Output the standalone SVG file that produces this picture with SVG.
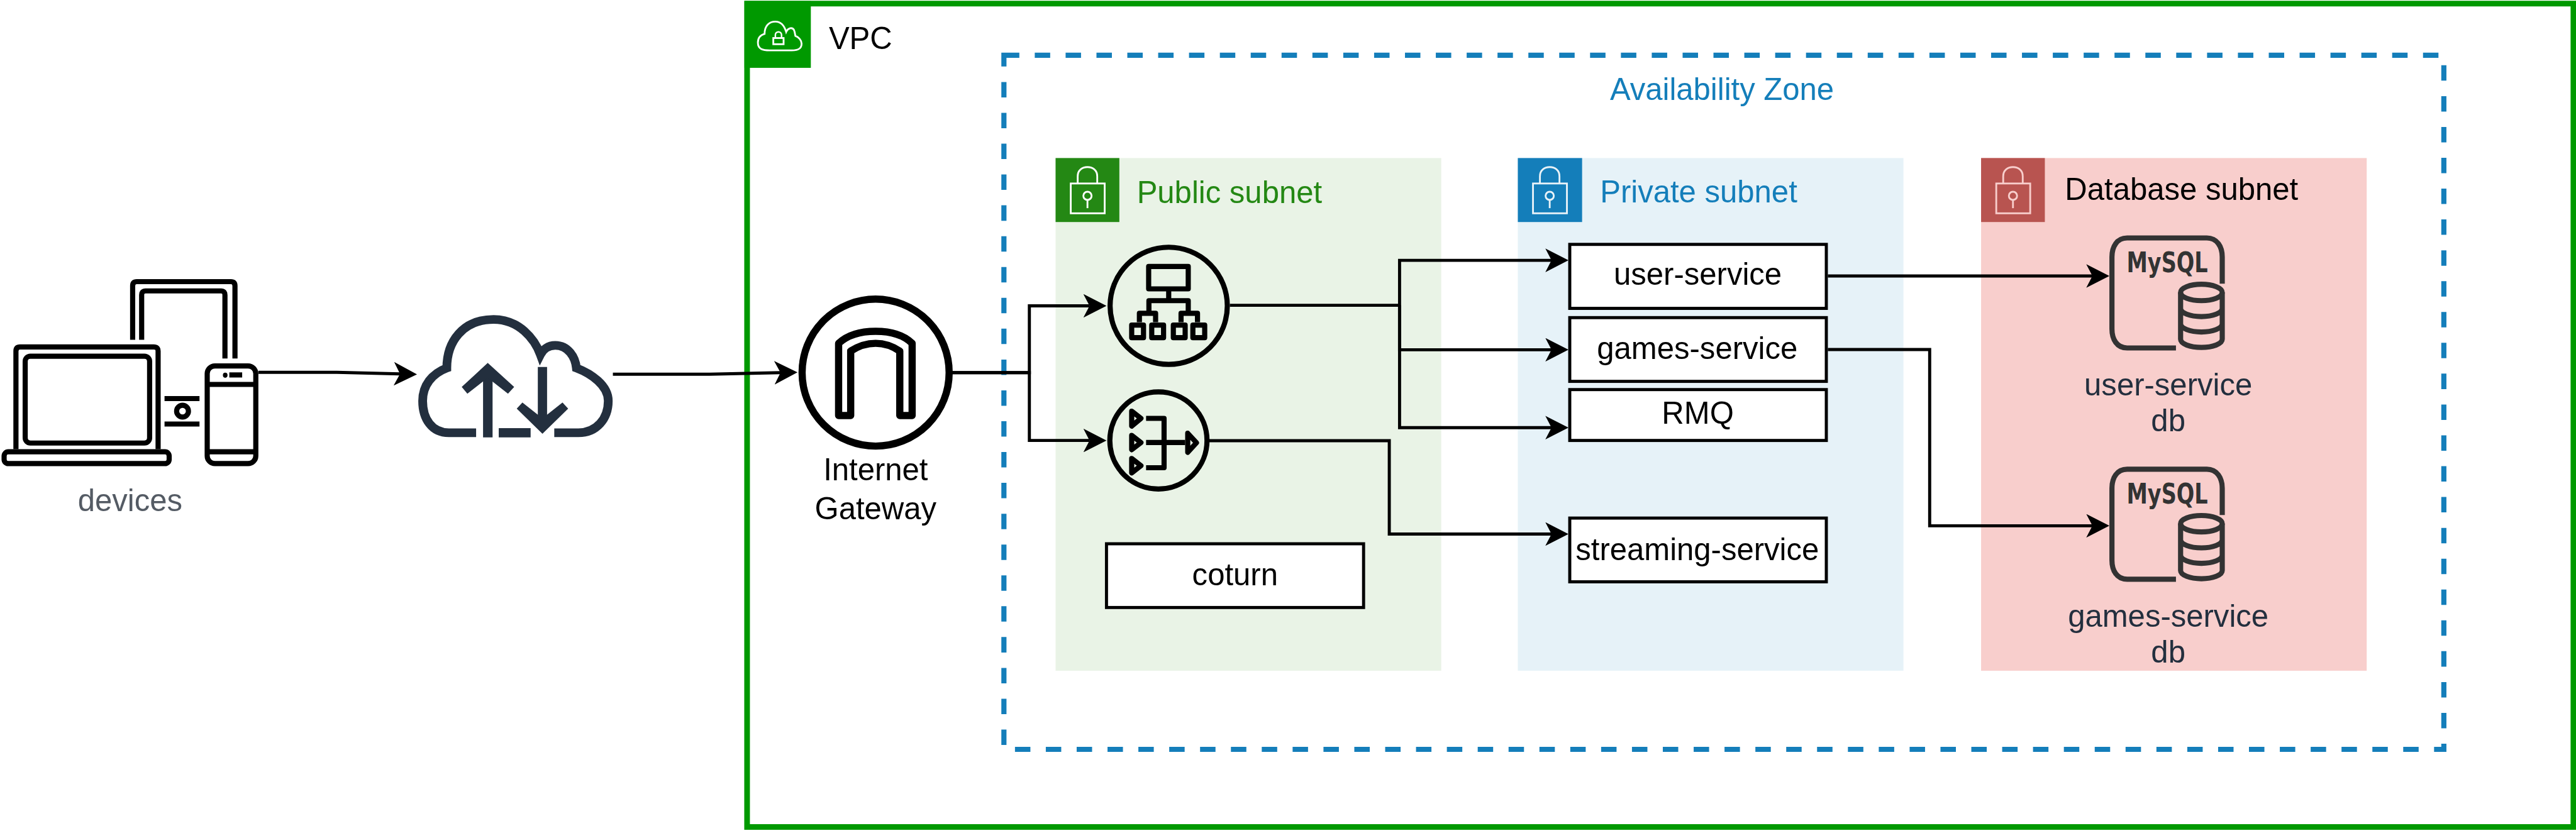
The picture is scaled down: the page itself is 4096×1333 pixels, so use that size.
<svg xmlns="http://www.w3.org/2000/svg" xmlns:xlink="http://www.w3.org/1999/xlink" width="4096" height="1333" viewBox="0 0 4096 1333">
<style>
text{font-family:"Liberation Sans",Arial,sans-serif;font-size:60px}
.mid{text-anchor:middle}
.box{fill:#fff;stroke:#000;stroke-width:6}
.line{fill:none;stroke:#000;stroke-width:6;marker-end:url(#arrow)}
.ico{fill:none;stroke:#000;stroke-width:10;stroke-linejoin:round}
.db{fill:none;stroke:#333;stroke-width:10}
.lock{fill:none;stroke-width:3.5}
.navy{fill:#232F3E}
</style>
<defs>
<marker id="arrow" markerUnits="userSpaceOnUse" markerWidth="46" markerHeight="46" viewBox="0 0 46 46" refX="12" refY="23" orient="auto">
<path d="M0,0L45,23L0,46L12,23Z" fill="#000"/>
</marker>
<g id="lockglyph">
<rect x="29.500" y="50" width="66" height="58"/>
<path d="M43,50V36C43,24 52,18 62,18C72,18 81,24 81,36V50"/>
<circle cx="62" cy="74" r="8"/>
<path d="M62,82V98"/>
</g>
<g id="mysqlglyph">
<path d="M4232,677H4137C4117,677 4107.500,660 4107.500,640V500C4107.500,480 4117,463 4137,463H4292C4312,463 4322,480 4322,500V552"/>
<ellipse cx="4281.500" cy="569" rx="40.500" ry="16"/>
<path d="M4241,569V660A40.500,16 0 0 0 4322,660V569M4241,600A40.500,16 0 0 0 4322,600M4241,630A40.500,16 0 0 0 4322,630"/>
</g>
</defs>
<g transform="scale(0.81756)">
<g id="vpc">
<rect x="1453" y="7" width="3552" height="1602" fill="#fff" stroke="#009900" stroke-width="11"/>
<rect x="1448" y="2" width="129" height="130" fill="#009900"/>
<path d="M1497,98C1484,98 1474,96 1474,83C1474,72 1480,68 1487,66C1487,50 1496,42 1508,42C1520,42 1526,52 1529,62C1532,55 1540,52 1544,58C1546,62 1546,66 1547,70C1553,72 1559,78 1559,85C1559,96 1550,98 1540,98Z" fill="none" stroke="#fff" stroke-width="3.500"/>
<rect x="1504" y="74" width="20" height="12" fill="none" stroke="#fff" stroke-width="3.500"/>
<path d="M1508,74V68C1508,60 1520,60 1520,68V74" fill="none" stroke="#fff" stroke-width="3"/>
<text x="1612" y="95">VPC</text>
</g>
<g id="availability-zone">
<rect x="1952.500" y="107.500" width="2800.500" height="1350.500" fill="none" stroke="#147EBA" stroke-width="10" stroke-dasharray="30 30"/>
<text class="mid" x="3349" y="195" fill="#147EBA">Availability Zone</text>
</g>
<g id="public-subnet">
<rect x="2053" y="307.500" width="750" height="997.500" fill="#E9F3E6"/>
<rect x="2053" y="307.500" width="124" height="124.500" fill="#248814"/>
<use href="#lockglyph" class="lock" stroke="#fff" transform="translate(2053,307)"/>
<text x="2211" y="395" fill="#248814">Public subnet</text>
</g>
<g id="private-subnet">
<rect x="2952" y="307.500" width="750" height="997.500" fill="#E6F2F8"/>
<rect x="2952" y="307.500" width="125" height="124.500" fill="#147EBA"/>
<use href="#lockglyph" class="lock" stroke="#fff" style="opacity:.9" transform="translate(2952,307)"/>
<text x="3112" y="394" fill="#147EBA">Private subnet</text>
</g>
<g id="database-subnet">
<rect x="3853" y="307.500" width="750" height="997.500" fill="#F8CECC"/>
<rect x="3853" y="307.500" width="124" height="124.500" fill="#B85450"/>
<use href="#lockglyph" class="lock" stroke="#F8CECC" transform="translate(3853,307)"/>
<text x="4016" y="389" fill="#000">Database subnet</text>
</g>
<g id="devices">
<path class="ico" d="M258,661V556Q258,548 266,548H449Q457,548 457,556V697.500"/>
<path class="ico" d="M275.500,661V574Q275.500,566 283,566H430Q437.500,566 437.500,574V697.500"/>
<path class="ico" d="M31,874V683Q31,675 39,675H299Q307.500,675 307.500,683V874"/>
<rect class="ico" x="49" y="693" width="242" height="169" rx="10"/>
<rect class="ico" x="8" y="879" width="321" height="23" rx="8"/>
<rect class="ico" x="403" y="712" width="94.500" height="190" rx="15"/>
<path class="ico" d="M403,748H497.500M403,879H497.500"/>
<ellipse cx="438" cy="730" rx="4.500" ry="5"/>
<rect x="446" y="724.500" width="25" height="10"/>
<path class="ico" d="M320,775.500H388M320,825H388"/>
<circle class="ico" cx="355" cy="800" r="11.500"/>
<text class="mid" x="253" y="994.500" fill="#545B64">devices</text>
</g>
<g id="internet-cloud">
<path d="M926,842H873C840,842 822,815 822,780C822,750 840,727 869,716C869,665 900,621.500 960,621.500C1010,621.500 1040,660 1051,690C1056,680 1066,672 1080,672C1105,672 1119,695 1121,716C1150,727 1183,750 1183,780C1183,815 1160,842 1125,842H1078" fill="none" stroke="#232F3E" stroke-width="17"/>
<rect class="navy" x="970" y="833" width="62" height="18"/>
<rect class="navy" x="939.500" y="725" width="18.500" height="126"/>
<path class="navy" d="M948.600,706L1000,753L988,766L948.600,735L909,766L898,753Z"/>
<rect class="navy" x="1046" y="714" width="18" height="110"/>
<path class="navy" d="M1055,844L1105,795L1094,783L1055,814L1016,783L1005,795Z"/>
</g>
<g id="internet-gateway">
<circle cx="1703" cy="725" r="143" fill="#fff" stroke="#000" stroke-width="14"/>
<path d="M1631,808.500V668C1650,650 1675,644.500 1703,644.500C1731,644.500 1756,650 1774,668V808.500H1750V683C1735,673 1720,668 1703,668C1686,668 1670,673 1654.500,683V808.500Z" fill="none" stroke="#000" stroke-width="14" stroke-linejoin="round"/>
<text class="mid" x="1703" y="935">Internet</text>
<text class="mid" x="1703" y="1010">Gateway</text>
</g>
<g id="load-balancer-application">
<circle cx="2273" cy="595" r="114" fill="none" stroke="#000" stroke-width="10"/>
<rect class="ico" x="2234" y="518.500" width="77" height="43.500"/>
<path class="ico" d="M2273,562V585M2234.500,609.500V585H2311V609.500M2216,627V609.500H2247.500V627M2297,627V609.500H2329V627"/>
<rect class="ico" x="2201" y="632.500" width="23" height="24.500"/>
<rect class="ico" x="2240" y="632.500" width="23" height="24.500"/>
<rect class="ico" x="2282" y="632.500" width="23" height="24.500"/>
<rect class="ico" x="2320" y="632.500" width="23" height="24.500"/>
</g>
<g id="load-balancer-network">
<circle cx="2253" cy="857" r="94.500" fill="none" stroke="#000" stroke-width="10"/>
<path class="ico" d="M2201,800L2219,814L2201,829ZM2201,847L2219,861L2201,875ZM2201,892L2219,906L2201,920ZM2310,843L2327,861.500L2310,880Z"/>
<path class="ico" d="M2229,814H2264V910H2229M2229,861H2305"/>
</g>
<g id="coturn"><rect class="box" x="2152" y="1058" width="500" height="124"/><text class="mid" x="2402" y="1139">coturn</text></g>
<g id="user-service"><rect class="box" x="3053" y="475.500" width="499" height="124.500"/><text class="mid" x="3302" y="553.500">user-service</text></g>
<g id="games-service"><rect class="box" x="3053" y="618" width="499" height="124"/><text class="mid" x="3301" y="699">games-service</text></g>
<g id="rmq"><rect class="box" x="3053" y="758" width="499" height="99"/><text class="mid" x="3302" y="825">RMQ</text></g>
<g id="streaming-service"><rect class="box" x="3053" y="1008" width="499" height="124"/><text class="mid" x="3301" y="1090">streaming-service</text></g>
<g id="user-service-db">
<use href="#mysqlglyph" class="db"/>
<text x="4136" y="530" textLength="158" lengthAdjust="spacingAndGlyphs" style="font-family:'DejaVu Sans Condensed','DejaVu Sans',sans-serif;font-weight:bold;font-size:54px" fill="#333">MySQL</text>
<text class="mid navy" x="4217" y="769">user-service</text>
<text class="mid navy" x="4217" y="839.500">db</text>
</g>
<g id="games-service-db">
<use href="#mysqlglyph" class="db" transform="translate(0,450)"/>
<text x="4136" y="980" textLength="158" lengthAdjust="spacingAndGlyphs" style="font-family:'DejaVu Sans Condensed','DejaVu Sans',sans-serif;font-weight:bold;font-size:54px" fill="#333">MySQL</text>
<text class="mid navy" x="4217" y="1219">games-service</text>
<text class="mid navy" x="4217" y="1289">db</text>
</g>
<g id="connectors">
<path class="line" d="M502.500,724.500H655L778,727.500"/>
<path class="line" d="M1192,728H1380L1518,725"/>
<path class="line" d="M1852,725H2002V595H2119"/>
<path class="line" d="M1852,725H2002V857H2119"/>
<path class="line" d="M2392,594H2722V506.500H3017.500"/>
<path class="line" d="M2722,594V680.500H3017.500"/>
<path class="line" d="M2722,594V832H3017.500"/>
<path class="line" d="M2352,857.500H2702V1039H3017.500"/>
<path class="line" d="M3555,537H4069.500"/>
<path class="line" d="M3555,680H3753V1023H4069.500"/>
</g>
</g>
</svg>
